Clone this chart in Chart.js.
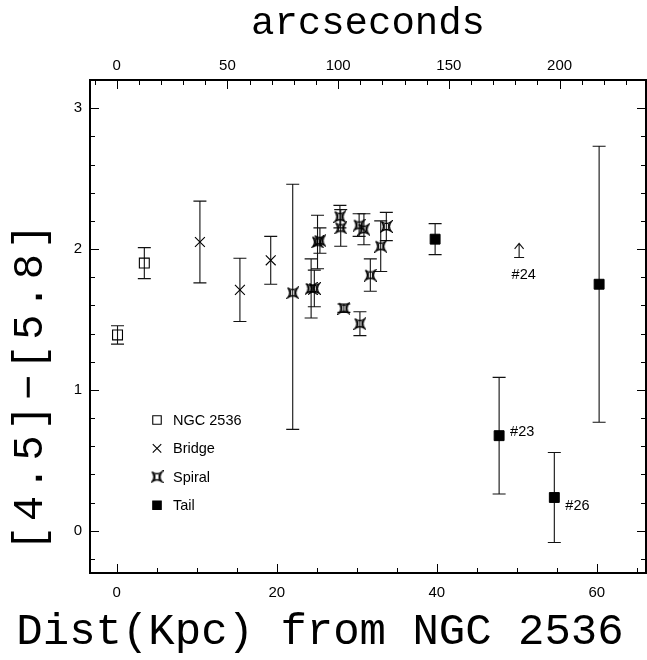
<!DOCTYPE html>
<html>
<head>
<meta charset="utf-8">
<script src="https://cdn.jsdelivr.net/npm/chart.js@4.4.0/dist/chart.umd.min.js"></script>
<style>
  html, body { margin: 0; padding: 0; background: #fff; }
  canvas { display: block; }
</style>
</head>
<body>
<canvas id="chart" width="647" height="660"></canvas>
<script>
// NGC 2536
const ngcX = [0.1, 3.45];
const ngcY = [1.39, 1.90];
const ngcErrHi = [0.065, 0.11];
const ngcErrLo = [0.065, 0.11];

// Bridge
const bridgeX = [10.4, 15.4, 19.25];
const bridgeY = [2.05, 1.71, 1.92];
const bridgeErrHi = [0.29, 0.225, 0.17];
const bridgeErrLo = [0.29, 0.225, 0.17];

// Spiral
const spiralX = [22.0, 24.3, 24.7, 25.1, 25.4, 27.9, 28.0, 28.4, 30.3, 30.9, 30.4, 31.7, 33.0, 33.7];
const spiralY = [1.69, 1.72, 1.72, 2.05, 2.06, 2.23, 2.15, 1.58, 2.17, 2.14, 1.47, 1.815, 2.02, 2.16];
const spiralErrHi = [0.77, 0.21, 0.13, 0.19, 0.09, 0.08, 0.13, 0.03, 0.08, 0.11, 0.085, 0.115, 0.18, 0.10];
const spiralErrLo = [0.97, 0.21, 0.13, 0.19, 0.09, 0.08, 0.13, 0.03, 0.08, 0.11, 0.085, 0.115, 0.18, 0.10];

// Tail
const tailX = [39.8, 47.8, 54.7, 60.3];
const tailY = [2.07, 0.675, 0.236, 1.75];
const tailErrHi = [0.11, 0.414, 0.32, 0.98];
const tailErrLo = [0.11, 0.414, 0.32, 0.98];
const tailNames = ['', '#23', '#26', ''];

// lower limit (#24)
const limitX = [50.3];
const limitY = [1.94];
const limitNames = ['#24'];

// axes
const xRange = [-3.34, 66.16];
const yRange = [-0.3, 3.2];
const arcsecPerKpc = 3.613;
const xTicks = [0, 20, 40, 60];
const topTicks = [0, 50, 100, 150, 200];
const yTicks = [0, 1, 2, 3];

const xTitle = 'Dist(Kpc) from NGC 2536';
const topTitle = 'arcseconds';
const yTitle = '[4.5]\u2212[5.8]';

// spiral marker: square with concave sides
function spiralMarker(size) {
  const c = document.createElement('canvas');
  c.width = size; c.height = size;
  const g = c.getContext('2d');
  const m = size / 2, r = size / 2 - 1.5;
  g.strokeStyle = '#000';
  g.lineWidth = 1.3;
  g.beginPath();
  g.moveTo(m - r, m - r);
  g.quadraticCurveTo(m, m - r * 0.2, m + r, m - r);
  g.quadraticCurveTo(m + r * 0.2, m, m + r, m + r);
  g.quadraticCurveTo(m, m + r * 0.2, m - r, m + r);
  g.quadraticCurveTo(m - r * 0.2, m, m - r, m - r);
  g.stroke();
  g.beginPath();
  g.moveTo(m - r * 0.45, m - r * 0.55); g.lineTo(m - r * 0.45, m + r * 0.55);
  g.moveTo(m + r * 0.45, m - r * 0.55); g.lineTo(m + r * 0.45, m + r * 0.55);
  g.stroke();
  return c;
}
const spiralStyle = spiralMarker(13);

function pts(xs, ys) {
  return xs.map((x, i) => ({ x: x, y: ys[i] }));
}
function fixTicks(values) {
  return function (scale) { scale.ticks = values.map(v => ({ value: v })); };
}
function fitBox(w, h) {
  return function (s) {
    if (w) s.width = w;
    if (h) s.height = h;
    s.paddingLeft = 0; s.paddingRight = 0; s.paddingTop = 0; s.paddingBottom = 0;
  };
}

const fontSans = 'Liberation Sans, Arial, sans-serif';
const fontMono = 'Liberation Mono, Courier New, monospace';

const datasets = [
  { label: 'NGC 2536', data: pts(ngcX, ngcY), errHi: ngcErrHi, errLo: ngcErrLo,
    pointStyle: 'rect', pointRadius: 7, borderColor: '#000', backgroundColor: 'rgba(255,255,255,0)', borderWidth: 1.1 },
  { label: 'Bridge', data: pts(bridgeX, bridgeY), errHi: bridgeErrHi, errLo: bridgeErrLo,
    pointStyle: 'crossRot', pointRadius: 7, borderColor: '#000', borderWidth: 1.1 },
  { label: 'Spiral', data: pts(spiralX, spiralY), errHi: spiralErrHi, errLo: spiralErrLo,
    pointStyle: spiralStyle, pointRadius: 7, borderColor: '#000' },
  { label: 'Tail', data: pts(tailX, tailY), errHi: tailErrHi, errLo: tailErrLo,
    pointStyle: 'rect', pointRadius: 7, borderColor: '#000', backgroundColor: '#000', borderWidth: 1 }
];

// error bars, lower-limit arrow and point labels
const errorBars = {
  id: 'errorBars',
  beforeDatasetsDraw(chart) {
    const ctx = chart.ctx, xs = chart.scales.x, ys = chart.scales.y;
    ctx.save();
    ctx.strokeStyle = '#111';
    ctx.lineWidth = 1.1;
    chart.data.datasets.forEach(ds => {
      ds.data.forEach((p, i) => {
        const px = xs.getPixelForValue(p.x);
        const top = ys.getPixelForValue(p.y + ds.errHi[i]);
        const bot = ys.getPixelForValue(p.y - ds.errLo[i]);
        ctx.beginPath();
        ctx.moveTo(px, top); ctx.lineTo(px, bot);
        ctx.moveTo(px - 6.5, top); ctx.lineTo(px + 6.5, top);
        ctx.moveTo(px - 6.5, bot); ctx.lineTo(px + 6.5, bot);
        ctx.stroke();
      });
    });
    limitX.forEach((x, i) => {
      const px = xs.getPixelForValue(x);
      const base = ys.getPixelForValue(limitY[i]);
      const tip = ys.getPixelForValue(limitY[i] + 0.1);
      ctx.beginPath();
      ctx.moveTo(px - 5, base); ctx.lineTo(px + 5, base);
      ctx.moveTo(px, base); ctx.lineTo(px, tip);
      ctx.moveTo(px - 4.5, tip + 5.5); ctx.lineTo(px, tip); ctx.lineTo(px + 4.5, tip + 5.5);
      ctx.stroke();
    });
    ctx.restore();
  },
  afterDatasetsDraw(chart) {
    const ctx = chart.ctx, xs = chart.scales.x, ys = chart.scales.y;
    ctx.save();
    ctx.fillStyle = '#000';
    ctx.font = '14.5px ' + fontSans;
    ctx.textBaseline = 'middle';
    ctx.textAlign = 'left';
    tailNames.forEach((n, i) => {
      if (!n) return;
      const px = xs.getPixelForValue(tailX[i]);
      const py = ys.getPixelForValue(tailY[i]);
      ctx.fillText(n, px + 11, py + (i === 2 ? 8 : -4));
    });
    limitNames.forEach((n, i) => {
      const px = xs.getPixelForValue(limitX[i]);
      const py = ys.getPixelForValue(limitY[i]);
      ctx.fillText(n, px - 7.5, py + 18);
    });
    ctx.restore();
  }
};

// frame, inward ticks on all sides, legend and axis titles
const frame = {
  id: 'frame',
  afterDraw(chart) {
    const ctx = chart.ctx, a = chart.chartArea;
    const xs = chart.scales.x, x2 = chart.scales.x2, ys = chart.scales.y;
    ctx.save();
    ctx.strokeStyle = '#000';
    ctx.lineWidth = 1;
    function each(min, max, step, major, fn) {
      for (let i = Math.ceil(min / step - 1e-9); i * step <= max + 1e-9; i++) {
        const v = i * step;
        const isMajor = Math.abs(v / major - Math.round(v / major)) < 1e-6;
        fn(v, isMajor ? 9 : 5);
      }
    }
    ctx.beginPath();
    each(xs.min, xs.max, 5, 20, (v, len) => {
      const p = Math.round(xs.getPixelForValue(v)) + 0.5;
      ctx.moveTo(p, a.bottom); ctx.lineTo(p, a.bottom - len);
    });
    each(x2.min, x2.max, 10, 50, (v, len) => {
      const p = Math.round(x2.getPixelForValue(v)) + 0.5;
      ctx.moveTo(p, a.top); ctx.lineTo(p, a.top + len);
    });
    each(ys.min, ys.max, 0.2, 1, (v, len) => {
      const p = Math.round(ys.getPixelForValue(v)) + 0.5;
      ctx.moveTo(a.left, p); ctx.lineTo(a.left + len, p);
      ctx.moveTo(a.right, p); ctx.lineTo(a.right - len, p);
    });
    ctx.stroke();
    ctx.lineWidth = 2;
    ctx.strokeRect(a.left, a.top, a.right - a.left, a.bottom - a.top);

    // legend
    ctx.font = '14.5px ' + fontSans;
    ctx.textBaseline = 'middle';
    ctx.textAlign = 'left';
    chart.data.datasets.forEach((ds, i) => {
      const ly = 420 + i * 28.4;
      ctx.lineWidth = 1.1;
      ctx.strokeStyle = '#000';
      ctx.fillStyle = ds.backgroundColor || 'rgba(0,0,0,0)';
      Chart.helpers.drawPoint(ctx, { pointStyle: ds.pointStyle, radius: 6, borderWidth: 1.1 }, 157, ly);
      ctx.fillStyle = '#000';
      ctx.fillText(ds.label, 173, ly + 1);
    });

    // axis titles
    ctx.fillStyle = '#000';
    ctx.textAlign = 'center';
    ctx.textBaseline = 'middle';
    const cx = (a.left + a.right) / 2;
    ctx.font = '39px ' + fontMono;
    ctx.fillText(topTitle, cx, 24);
    ctx.font = '44px ' + fontMono;
    ctx.fillText(xTitle, cx - 48, 632);
    ctx.save();
    ctx.translate(31, 385);
    ctx.rotate(-Math.PI / 2);
    ctx.font = '42px ' + fontMono;
    ctx.letterSpacing = '5px';
    ctx.fillText(yTitle, 0, 0);
    ctx.restore();
    ctx.restore();
  }
};

const tickFont = { family: fontSans, size: 15 };

new Chart(document.getElementById('chart'), {
  type: 'scatter',
  data: { datasets: datasets },
  options: {
    responsive: false,
    animation: false,
    devicePixelRatio: 1,
    layout: { autoPadding: false, padding: { left: 0, right: 1, top: 0, bottom: 0 } },
    plugins: { legend: { display: false }, tooltip: { enabled: false } },
    scales: {
      x: {
        type: 'linear', position: 'bottom', min: xRange[0], max: xRange[1],
        grid: { display: false, drawTicks: false }, border: { display: false },
        ticks: { color: '#000', font: tickFont, padding: 11, maxRotation: 0 },
        afterBuildTicks: fixTicks(xTicks),
        afterFit: fitBox(0, 87)
      },
      x2: {
        type: 'linear', position: 'top',
        min: xRange[0] * arcsecPerKpc, max: xRange[1] * arcsecPerKpc,
        grid: { display: false, drawTicks: false }, border: { display: false },
        ticks: { color: '#000', font: tickFont, padding: 5, maxRotation: 0 },
        afterBuildTicks: fixTicks(topTicks),
        afterFit: fitBox(0, 80)
      },
      y: {
        type: 'linear', position: 'left', min: yRange[0], max: yRange[1],
        grid: { display: false, drawTicks: false }, border: { display: false },
        ticks: { color: '#000', font: tickFont, padding: 8 },
        afterBuildTicks: fixTicks(yTicks),
        afterFit: fitBox(90, 0)
      }
    }
  },
  plugins: [errorBars, frame]
});
</script>
</body>
</html>
